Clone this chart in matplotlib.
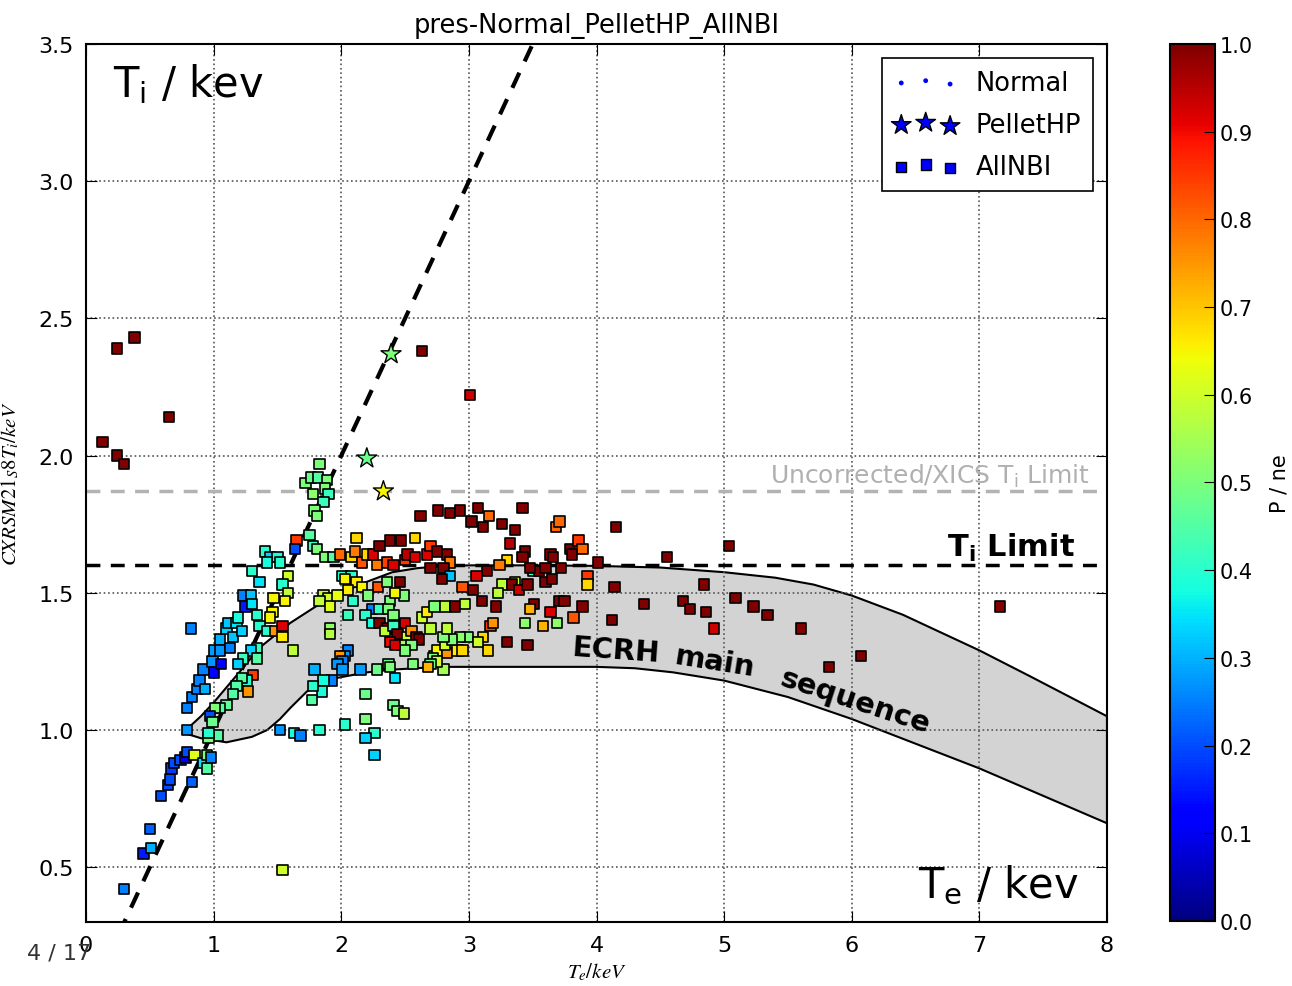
import numpy as np
import matplotlib
matplotlib.use('Agg')
import matplotlib.pyplot as plt
from matplotlib.patches import Polygon

# AllNBI shots: (Te, Ti, P/ne)
allnbi = [
    # isolated high points
    (0.13, 2.05, 1.0), (0.24, 2.00, 1.0), (0.30, 1.97, 1.0), (0.24, 2.39, 1.0), (0.38, 2.43, 1.0),
    (0.65, 2.14, 1.0), (2.63, 2.38, 1.0), (3.01, 2.22, 0.93), (7.16, 1.45, 1.0), (5.82, 1.23, 1.0),
    (6.07, 1.27, 1.0), (5.04, 1.67, 1.0), (4.55, 1.63, 1.0), (4.15, 1.74, 1.0),
    # low Te
    (0.30, 0.42, 0.25), (1.54, 0.49, 0.6), (0.45, 0.55, 0.15), (0.51, 0.57, 0.3), (0.50, 0.64, 0.22),
    (0.59, 0.76, 0.2), (0.64, 0.80, 0.2), (0.66, 0.82, 0.2), (0.67, 0.86, 0.18), (0.69, 0.88, 0.2),
    (0.74, 0.89, 0.2), (0.78, 0.90, 0.12), (0.79, 0.92, 0.2), (0.85, 0.91, 0.62), (0.83, 0.81, 0.22),
    (0.92, 0.88, 0.35), (0.95, 0.86, 0.45), (0.95, 0.91, 0.5), (0.98, 0.90, 0.25), (0.82, 1.37, 0.25),
    # left streak
    (0.79, 1.00, 0.27), (0.79, 1.08, 0.25), (0.83, 1.12, 0.25), (0.87, 1.15, 0.25), (0.89, 1.18, 0.25),
    (0.92, 1.22, 0.25), (0.93, 1.15, 0.3), (0.99, 1.25, 0.27), (1.00, 1.29, 0.28), (1.00, 1.21, 0.12),
    (1.05, 1.33, 0.3), (1.05, 1.29, 0.27), (1.06, 1.24, 0.12), (1.10, 1.37, 0.33), (1.11, 1.39, 0.32),
    (1.13, 1.30, 0.25), (1.15, 1.34, 0.32), (1.18, 1.39, 0.35), (1.19, 1.41, 0.38), (1.22, 1.36, 0.33),
    (1.23, 1.49, 0.25), (1.25, 1.45, 0.15), (1.29, 1.49, 0.32), (1.30, 1.46, 0.35), (1.34, 1.42, 0.4),
    (1.30, 1.58, 0.4), (1.36, 1.54, 0.35), (1.40, 1.65, 0.4), (1.44, 1.63, 0.33), (1.50, 1.63, 0.38),
    (1.42, 1.61, 0.38), (1.52, 1.61, 0.4), (1.58, 1.56, 0.6), (1.54, 1.53, 0.4), (1.58, 1.50, 0.58),
    (1.56, 1.47, 0.65), (1.47, 1.48, 0.65), (1.46, 1.43, 0.65), (1.44, 1.41, 0.65), (1.36, 1.38, 0.4),
    (1.42, 1.36, 0.4), (1.48, 1.36, 0.75), (1.54, 1.38, 0.92), (1.54, 1.34, 0.66), (1.62, 1.29, 0.58),
    (1.34, 1.30, 0.42), (1.29, 1.29, 0.33), (1.23, 1.26, 0.42), (1.19, 1.24, 0.33), (1.34, 1.26, 0.45),
    (1.31, 1.20, 0.85), (1.26, 1.18, 0.4), (1.27, 1.14, 0.75), (1.22, 1.19, 0.45), (1.18, 1.16, 0.45),
    (1.15, 1.13, 0.45), (1.10, 1.09, 0.47), (1.05, 1.08, 0.45), (1.01, 1.08, 0.5), (0.97, 1.05, 0.2),
    (0.99, 1.03, 0.48), (1.03, 0.98, 0.45), (0.96, 0.97, 0.5), (0.96, 0.99, 0.4),
    # spike near Te=1.8
    (1.83, 1.97, 0.5), (1.72, 1.90, 0.5), (1.76, 1.92, 0.48), (1.82, 1.92, 0.45), (1.89, 1.91, 0.5),
    (1.87, 1.88, 0.5), (1.90, 1.86, 0.42), (1.78, 1.86, 0.52), (1.86, 1.83, 0.42), (1.79, 1.80, 0.5),
    (1.81, 1.78, 0.5), (1.75, 1.71, 0.45), (1.78, 1.67, 0.42), (1.81, 1.66, 0.5), (1.87, 1.63, 0.5),
    (1.94, 1.63, 0.45), (1.99, 1.64, 0.8), (1.65, 1.69, 0.85), (1.64, 1.66, 0.2),
    # Te 2-2.9, upper
    (2.08, 1.63, 0.68), (2.11, 1.65, 0.78), (2.12, 1.70, 0.68), (2.16, 1.61, 0.82), (2.20, 1.64, 0.68),
    (2.25, 1.64, 0.92), (2.30, 1.67, 1.0), (2.38, 1.69, 1.0), (2.47, 1.69, 1.0), (2.58, 1.70, 0.68),
    (2.62, 1.78, 1.0), (2.76, 1.80, 1.0), (2.85, 1.79, 1.0), (2.93, 1.80, 1.0), (2.28, 1.60, 0.78),
    (2.36, 1.61, 0.84), (2.41, 1.60, 0.92), (2.50, 1.62, 0.85), (2.52, 1.64, 0.95), (2.58, 1.63, 0.92),
    (2.67, 1.64, 0.92), (2.70, 1.67, 0.85), (2.75, 1.65, 1.0), (2.83, 1.64, 1.0), (2.85, 1.61, 0.78),
    (2.70, 1.59, 1.0), (2.80, 1.59, 1.0), (2.85, 1.56, 0.32),
    # Te 1.8-2.6, middle
    (2.29, 1.52, 0.82), (2.36, 1.54, 0.5), (2.46, 1.54, 1.0), (2.49, 1.49, 0.5), (2.38, 1.47, 0.5),
    (2.42, 1.50, 0.65), (2.01, 1.56, 0.4), (2.08, 1.56, 0.4), (2.03, 1.55, 0.65), (2.12, 1.54, 0.66),
    (2.16, 1.52, 0.65), (2.05, 1.51, 0.66), (2.09, 1.47, 0.4), (2.21, 1.49, 0.5), (1.86, 1.49, 0.58),
    (1.90, 1.48, 0.6), (1.83, 1.47, 0.58), (1.91, 1.45, 0.62), (1.97, 1.49, 0.63), (2.05, 1.42, 0.42),
    (2.24, 1.44, 0.25), (2.19, 1.42, 0.4), (2.30, 1.44, 0.42), (2.37, 1.44, 0.5), (2.41, 1.42, 0.5),
    (2.24, 1.39, 0.38), (2.30, 1.39, 1.0), (2.36, 1.37, 1.0), (2.34, 1.36, 0.58), (2.41, 1.38, 0.42),
    (2.44, 1.35, 1.0), (2.50, 1.39, 0.92), (2.52, 1.34, 0.6), (2.55, 1.36, 0.75), (2.59, 1.34, 1.0),
    (2.38, 1.32, 0.9), (2.48, 1.31, 0.55), (1.91, 1.37, 0.52), (1.91, 1.35, 0.57),
    # Te 1.5-2.6, lower
    (2.05, 1.29, 0.25), (2.03, 1.27, 0.28), (1.99, 1.27, 0.75), (2.01, 1.25, 0.25), (1.97, 1.24, 0.27),
    (1.79, 1.22, 0.3), (2.01, 1.22, 0.28), (2.15, 1.22, 0.28), (2.28, 1.22, 0.48), (2.37, 1.24, 0.48),
    (2.38, 1.23, 0.5), (2.42, 1.19, 0.35), (2.56, 1.24, 0.5), (1.93, 1.18, 0.25), (1.86, 1.18, 0.38),
    (1.85, 1.14, 0.38), (1.78, 1.16, 0.4), (1.77, 1.11, 0.45), (2.19, 1.13, 0.48), (2.41, 1.09, 0.48),
    (2.44, 1.07, 0.5), (2.49, 1.06, 0.58), (2.19, 1.04, 0.5), (1.83, 1.00, 0.4), (2.03, 1.02, 0.4),
    (2.26, 0.99, 0.4), (2.19, 0.97, 0.33), (2.26, 0.91, 0.33), (1.63, 0.99, 0.38), (1.68, 0.98, 0.25),
    (1.52, 1.00, 0.27),
    # Te 2.4-3.0, middle
    (2.99, 1.34, 0.5), (2.93, 1.34, 0.52), (2.80, 1.22, 0.55), (2.73, 1.27, 0.52), (2.75, 1.29, 0.65),
    (2.83, 1.28, 0.75), (2.91, 1.29, 0.66), (2.95, 1.29, 0.68), (2.81, 1.31, 0.6), (2.87, 1.33, 0.5),
    (2.80, 1.34, 0.5), (2.83, 1.37, 0.58), (2.70, 1.37, 0.58), (2.63, 1.41, 0.6), (2.67, 1.43, 0.66),
    (2.73, 1.45, 0.5), (2.81, 1.45, 0.58), (2.89, 1.45, 1.0), (2.97, 1.46, 0.58), (2.95, 1.52, 0.82),
    (2.79, 1.55, 1.0), (2.61, 1.33, 1.0), (2.55, 1.31, 0.5), (2.50, 1.29, 0.5), (2.42, 1.31, 0.92),
    (2.72, 1.26, 0.5), (2.75, 1.25, 0.6), (2.70, 1.24, 0.48), (2.68, 1.23, 0.72),
    # Te 3.0-4.2
    (3.02, 1.76, 1.0), (3.07, 1.81, 1.0), (3.16, 1.78, 0.8), (3.11, 1.74, 1.0), (3.26, 1.75, 1.0),
    (3.36, 1.73, 1.0), (3.42, 1.81, 1.0), (3.32, 1.68, 0.95), (3.44, 1.65, 1.0), (3.42, 1.63, 1.0),
    (3.30, 1.62, 0.68), (3.24, 1.60, 0.78), (3.14, 1.58, 1.0), (3.06, 1.56, 0.92), (3.03, 1.51, 1.0),
    (3.10, 1.47, 1.0), (3.21, 1.45, 1.0), (3.26, 1.53, 0.58), (3.23, 1.50, 0.58), (3.36, 1.54, 0.6),
    (3.34, 1.53, 1.0), (3.39, 1.51, 0.93), (3.46, 1.53, 1.0), (3.50, 1.58, 0.42), (3.51, 1.46, 1.0),
    (3.48, 1.44, 0.72), (3.64, 1.43, 0.92), (3.60, 1.54, 1.0), (3.65, 1.55, 1.0), (3.71, 1.47, 1.0),
    (3.75, 1.47, 1.0), (3.82, 1.41, 0.82), (3.89, 1.45, 1.0), (3.69, 1.39, 0.52), (3.58, 1.38, 0.72),
    (3.44, 1.39, 0.52), (3.17, 1.38, 0.85), (3.19, 1.39, 0.75), (3.30, 1.32, 1.0), (3.46, 1.31, 1.0),
    (3.15, 1.29, 0.68), (3.11, 1.34, 0.68), (3.07, 1.32, 0.6), (3.64, 1.64, 1.0), (3.66, 1.63, 1.0),
    (3.79, 1.66, 1.0), (3.86, 1.69, 0.85), (3.89, 1.66, 0.8), (3.81, 1.64, 1.0), (3.68, 1.74, 0.8),
    (3.71, 1.76, 0.8), (4.01, 1.61, 1.0), (3.93, 1.56, 0.85), (3.93, 1.53, 0.68), (4.12, 1.40, 1.0),
    (3.55, 1.58, 1.0), (3.60, 1.59, 1.0), (3.72, 1.59, 1.0), (3.48, 1.59, 1.0), (4.14, 1.52, 1.0),
    # Te > 4.2
    (4.84, 1.53, 1.0), (4.37, 1.46, 1.0), (4.68, 1.47, 1.0), (4.73, 1.44, 1.0), (4.86, 1.43, 1.0),
    (5.09, 1.48, 1.0), (5.23, 1.45, 1.0), (5.34, 1.42, 1.0), (4.92, 1.37, 0.93), (5.60, 1.37, 1.0),
]
allnbi_te = [p[0] for p in allnbi]
allnbi_ti = [p[1] for p in allnbi]
allnbi_pne = [p[2] for p in allnbi]

# PelletHP shots
pellet_te = [2.39, 2.20, 2.33]
pellet_ti = [2.37, 1.99, 1.87]
pellet_pne = [0.5, 0.48, 0.65]

# ECRH main sequence band
band_upper_te = [0.76, 0.9, 1.0, 1.2, 1.36, 1.6, 1.8, 2.0, 2.2, 2.4, 2.6, 2.8, 3.0, 3.5, 4.0, 4.5,
                 5.0, 5.4, 5.7, 6.0, 6.4, 7.0, 7.4, 8.0]
band_upper_ti = [0.99, 1.05, 1.10, 1.21, 1.30, 1.39, 1.45, 1.50, 1.54, 1.575, 1.59, 1.597, 1.60, 1.60,
                 1.598, 1.592, 1.575, 1.555, 1.53, 1.49, 1.42, 1.29, 1.195, 1.05]
band_lower_te = [0.76, 0.9, 1.1, 1.3, 1.42, 1.52, 1.6, 1.73, 1.85, 1.97, 2.2, 2.4, 2.77, 3.5, 4.0,
                 4.3, 4.6, 5.0, 5.5, 6.0, 6.5, 7.0, 7.5, 8.0]
band_lower_ti = [0.99, 0.97, 0.955, 0.975, 1.00, 1.04, 1.08, 1.14, 1.17, 1.19, 1.21, 1.22, 1.23, 1.23,
                 1.23, 1.225, 1.21, 1.18, 1.12, 1.04, 0.95, 0.86, 0.76, 0.66]

ti_limit = 1.6
xics_limit = 1.87

fig = plt.figure(figsize=(12.92, 9.87), dpi=100)
ax = fig.add_axes([0.0666, 0.0648, 0.7902, 0.8896])
cax = fig.add_axes([0.9056, 0.0659, 0.0348, 0.8886])

verts = list(zip(band_upper_te, band_upper_ti)) + list(zip(band_lower_te[::-1], band_lower_ti[::-1]))
ax.add_patch(Polygon(verts, closed=True, facecolor='#d3d3d3', edgecolor='k', lw=1.5, zorder=1))

ax.plot([0, 4], [0, 4], 'k--', lw=3, dashes=(4, 3), zorder=2)
ax.axhline(ti_limit, color='k', ls='--', lw=2.5, dashes=(4, 3), zorder=2)
ax.axhline(xics_limit, color='#b3b3b3', ls='--', lw=2.5, dashes=(4, 3), zorder=2)

sc = ax.scatter(allnbi_te, allnbi_ti, c=allnbi_pne, cmap='jet', vmin=0, vmax=1,
                marker='s', s=55, edgecolors='k', linewidths=1.2, zorder=3)
ax.scatter(pellet_te, pellet_ti, c=pellet_pne, cmap='jet', vmin=0, vmax=1,
           marker='*', s=230, edgecolors='k', linewidths=1.0, zorder=4)

# legend proxies
h1 = ax.scatter([], [], c='b', marker='o', s=12, edgecolors='none', label='Normal')
h2 = ax.scatter([], [], c='b', marker='*', s=220, edgecolors='k', label='PelletHP')
h3 = ax.scatter([], [], c='b', marker='s', s=55, edgecolors='k', label='AllNBI')
leg = ax.legend(handles=[h1, h2, h3], loc='upper right', fontsize=18.5, scatterpoints=3,
                scatteryoffsets=[0.375, 0.5, 0.3125], fancybox=False, framealpha=1,
                borderaxespad=0.55, borderpad=0.45, handlelength=2.5, handletextpad=0.7,
                labelspacing=0.62)
leg.get_frame().set_edgecolor('k')
leg.get_frame().set_linewidth(1.2)

ax.set_xlim(0, 8)
ax.set_ylim(0.3, 3.5)
ax.set_yticks([0.5, 1.0, 1.5, 2.0, 2.5, 3.0, 3.5])
ax.set_yticklabels(['0.5', '1.0', '1.5', '2.0', '2.5', '3.0', '3.5'])
ax.grid(True, linestyle=':', color='#555555', lw=1.2)
ax.tick_params(labelsize=16, direction='in', length=8, top=True, right=True, pad=9)
for s in ax.spines.values():
    s.set_linewidth(1.5)

ax.set_title('pres-Normal_PelletHP_AllNBI', fontsize=18.5, pad=9)
ax.set_xlabel(r'$T_e/keV$', fontsize=15, math_fontfamily='stix', labelpad=4)
ax.set_ylabel(r'$CXRSM21_S8T_i/keV$', fontsize=15, math_fontfamily='stix', labelpad=12)

ax.text(0.21, 3.31, r'T$_\mathregular{i}$ / kev', fontsize=30, va='baseline')
ax.text(6.52, 0.39, r'T$_\mathregular{e}$ / kev', fontsize=30, va='baseline')
ax.text(7.75, 1.635, r'T$_\mathregular{i}$ Limit', fontsize=22, fontweight='bold', ha='right', va='baseline')
ax.text(7.87, 1.90, r'Uncorrected/XICS T$_\mathregular{i}$ Limit', fontsize=18, color='#b0b0b0',
        ha='right', va='baseline')

# curved label, word by word
ax.text(3.8, 1.29, 'ECRH', fontsize=21, fontweight='bold', rotation=-4, ha='left', va='center')
ax.text(4.93, 1.25, 'main', fontsize=21, fontweight='bold', rotation=-9, ha='center', va='center')
ax.text(6.03, 1.105, 'sequence', fontsize=21, fontweight='bold', rotation=-18, ha='center', va='center')

cb = fig.colorbar(sc, cax=cax, ticks=np.arange(0, 1.01, 0.1))
cb.ax.set_yticklabels(['%.1f' % v for v in np.arange(0, 1.01, 0.1)])
cb.ax.tick_params(labelsize=15, direction='in', length=8)
cb.set_label('P / ne', fontsize=15, labelpad=12)
cb.outline.set_linewidth(1.5)

fig.text(0.021, 0.028, '4 / 17', fontsize=16, color='#333333')

fig.savefig('out.png', dpi=100)
